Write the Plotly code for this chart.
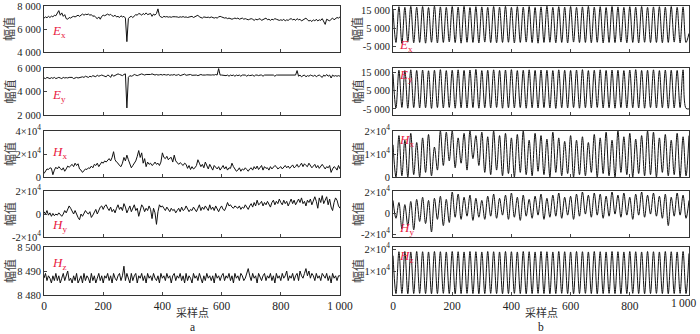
import plotly.graph_objects as go

# ---------------- data ----------------
a_sample = list(range(0, 1001, 5))      # sample index, panel a
b_sample = list(range(0, 1001, 10))     # sample index, panel b (peaks / troughs)

a_Ex = [6950, 7050, 6980, 7100, 7000, 7120, 7050, 7200, 7150, 7350,
        7600, 7200, 7400, 7100, 7250, 6900, 6850, 7000, 6950, 7050,
        7100, 7050, 7150, 7200, 7100, 7250, 7300, 7200, 7280, 7250,
        7300, 7200, 7250, 7100, 7150, 7000, 6900, 7050, 6850, 7100,
        7200, 7150, 7250, 7300, 7200, 7280, 7150, 7100, 7200, 7050,
        7100, 7000, 7150, 7050, 7100, 6950, 4900, 6900, 7050, 7100,
        7000, 7150, 7250, 7200, 7350, 7300, 7200, 7350, 7250, 7400,
        7250, 7300, 7350, 7100, 7300, 7200, 7350, 7750, 7150, 7050,
        7000, 7100, 7050, 7080, 7030, 7060, 7020, 7070, 7040, 7060,
        7050, 7010, 7060, 7030, 7080, 7020, 7050, 7000, 7040, 7070,
        7100, 7000, 7050, 7150, 7200, 7050, 7000, 6950, 7050, 7000,
        7000, 7030, 6980, 7050, 7000, 6950, 7000, 6950, 7050, 7100,
        7050, 7000, 6950, 6980, 6900, 6950, 6900, 6850, 6900, 6950,
        6900, 6950, 6850, 6900, 6950, 6850, 6900, 6850, 6800, 6850,
        6900, 6850, 6750, 6850, 6800, 6850, 6900, 6750, 6800, 6850,
        6950, 6800, 6850, 6750, 6850, 6800, 6900, 6850, 6800, 6750,
        6800, 6750, 6850, 6700, 6800, 6750, 6850, 6900, 6800, 6850,
        6750, 6900, 6800, 6850, 6700, 6800, 6850, 6950, 6800, 6700,
        6750, 6650, 6800, 6700, 6850, 6700, 6800, 6750, 6900, 6700,
        6400, 6850, 6750, 6700, 6850, 6950, 6800, 6900, 7000, 6950,
        7050]

a_Ey = [5150, 5100, 5200, 5150, 5100, 5180, 5120, 5200, 5100, 5150,
        5200, 5150, 5100, 5200, 5150, 5180, 5150, 5200, 5220, 5200,
        5100, 5150, 5200, 5150, 5180, 5200, 5250, 5200, 5300, 5250,
        5200, 5300, 5250, 5350, 5300, 5250, 5400, 5300, 5350, 5400,
        5350, 5300, 5250, 5400, 5350, 5200, 5450, 5300, 5350, 5400,
        5500, 5450, 5400, 5350, 5450, 5500, 2600, 5200, 5350, 5300,
        5350, 5450, 5400, 5350, 5400, 5450, 5500, 5450, 5400, 5450,
        5450, 5400, 5450, 5500, 5450, 5400, 5450, 5400, 5420, 5450,
        5400, 5450, 5420, 5400, 5450, 5380, 5420, 5400, 5450, 5380,
        5400, 5450, 5350, 5400, 5420, 5480, 5380, 5420, 5400, 5450,
        5380, 5400, 5420, 5400, 5350, 5400, 5450, 5400, 5380, 5400,
        5420, 5400, 5380, 5400, 5420, 5400, 5450, 5400, 5950, 5400,
        5400, 5380, 5400, 5350, 5400, 5300, 5400, 5350, 5400, 5300,
        5400, 5350, 5400, 5300, 5400, 5380, 5400, 5300, 5400, 5350,
        5400, 5400, 5300, 5400, 5400, 5350, 5400, 5400, 5300, 5400,
        5400, 5400, 5400, 5400, 5400, 5400, 5300, 5400, 5400, 5400,
        5400, 5400, 5400, 5400, 5400, 5400, 5400, 5400, 5400, 5400,
        5400, 5780, 5300, 5400, 5250, 5350, 5400, 5250, 5350, 5300,
        5400, 5350, 5300, 5400, 5250, 5350, 5400, 5300, 5200, 5400,
        5300, 5450, 5300, 5400, 5150, 5400, 5300, 5350, 5300, 5350,
        5300]

a_Hx = [3000, 5000, 7000, 6500, 8000, 7500, 2000, 6000, 8500, 7000,
        9000, 7500, 6000, 8000, 5000, 7000, 9500, 8500, 10000, 11000,
        9000, 12000, 10000, 11500, 7000, 6000, 4000, 5500, 7000, 6500,
        8000, 7500, 9500, 8000, 11000, 10000, 12000, 9000, 11500, 13000,
        12000, 14000, 13000, 15000, 16000, 14000, 17000, 22000, 15000, 13000,
        12000, 10000, 9000, 12000, 17000, 14000, 19000, 15000, 11000, 8000,
        10000, 12000, 14000, 18000, 23000, 17000, 21000, 12000, 16000, 9000,
        13000, 11000, 12000, 10000, 11000, 13000, 11000, 12000, 10000, 13000,
        21000, 17000, 16000, 18000, 15000, 16500, 17000, 13000, 19000, 14000,
        12000, 11000, 12500, 11000, 10000, 12000, 11000, 7500, 10000, 6500,
        9000, 7000, 8000, 10000, 15000, 12000, 9000, 11000, 8000, 13000,
        10000, 7000, 11000, 9000, 6000, 10000, 8000, 7000, 9000, 6000,
        8000, 10000, 7000, 9000, 6000, 8000, 7500, 12000, 9000, 7000,
        5000, 6000, 8000, 5000, 7000, 6000, 8000, 6500, 5000, 7000,
        8000, 6000, 9000, 7000, 9500, 6500, 8000, 10000, 6000, 9000,
        7500, 8000, 6000, 9000, 7000, 8500, 10000, 9000, 7000, 8000,
        9000, 7000, 8500, 10000, 8000, 9500, 7500, 9000, 10500, 8000,
        9000, 11000, 8500, 10000, 12000, 9000, 11500, 10000, 9000, 12000,
        10000, 8000, 9500, 11000, 8000, 10000, 7500, 9000, 11000, 9000,
        7000, 9000, 8000, 10000, 4000, 7000, 9000, 8000, 6000, 10000,
        7000]

a_Hy = [2000, 0, 3000, -1000, 1000, -2000, 500, -1500, 0, -1000,
        1000, -500, -2000, 0, 3000, 1000, 4000, 7000, 5000, 2000,
        0, 3000, -1000, -3000, -5000, 0, -2000, 1000, 3000, 1000,
        0, 2000, -3000, -1000, 2000, 4000, 0, 3000, 6000, 7000,
        4000, 7000, 8000, 5000, 3000, 6000, 2000, 4000, 1000, 5000,
        8000, 4000, 6000, 3000, 9000, 6000, 1000, 4000, 7000, 2000,
        6000, 8000, 3000, 5000, -2000, 4000, 8000, 6000, 2000, 5000,
        3000, 7000, 4000, -4000, 5000, 1000, -9000, 2000, 8000, 6000,
        7000, 5000, 3000, 6000, 4000, 2000, 5000, 3000, 4000, 1000,
        3000, 5000, 2000, 6000, 3000, 4000, 7000, 5000, 2000, 4000,
        3000, 6000, 4000, 2000, 5000, 8000, 3000, 6000, 4000, 7000,
        5000, 3000, 8000, 4000, 6000, 3000, 7000, 5000, 2000, 5000,
        7000, 4000, 3000, 6000, 10000, 7000, 8000, 6000, 5000, 7000,
        6000, 5000, 7000, 4000, 6000, 5000, 8000, 6000, 4000, 7000,
        9000, 6000, 10000, 7000, 12000, 8000, 9000, 11000, 7000, 10000,
        8000, 11000, 9000, 6000, 10000, 12000, 8000, 11000, 9000, 13000,
        10000, 8000, 12000, 9000, 11000, 7000, 10000, 13000, 9000, 12000,
        8000, 11000, 13000, 10000, 14000, 9000, 11000, 7000, 12000, 10000,
        13000, 8000, 12000, 15000, 11000, 5000, 14000, 10000, 16000, 9000,
        12000, 15000, 8000, 13000, 6000, 3000, 10000, 14000, 12000, 7000,
        5000]

a_Hz = [8487, 8489, 8486, 8488, 8487, 8485, 8488, 8486, 8489, 8486,
        8488, 8485, 8487, 8489, 8486, 8488, 8490, 8486, 8487, 8485,
        8488, 8486, 8489, 8485, 8487, 8488, 8485, 8489, 8486, 8488,
        8487, 8485, 8489, 8486, 8488, 8485, 8487, 8489, 8486, 8488,
        8485, 8488, 8487, 8489, 8486, 8488, 8485, 8489, 8487, 8486,
        8488, 8489, 8486, 8488, 8492, 8486, 8489, 8487, 8485, 8489,
        8486, 8488, 8489, 8485, 8488, 8487, 8489, 8486, 8488, 8485,
        8489, 8487, 8488, 8486, 8489, 8487, 8486, 8488, 8485, 8489,
        8487, 8488, 8486, 8489, 8487, 8488, 8485, 8488, 8489, 8486,
        8488, 8487, 8489, 8486, 8488, 8485, 8489, 8486, 8488, 8487,
        8485, 8489, 8487, 8488, 8486, 8489, 8487, 8485, 8488, 8486,
        8489, 8487, 8488, 8486, 8488, 8485, 8489, 8487, 8488, 8486,
        8488, 8489, 8486, 8488, 8487, 8489, 8486, 8488, 8485, 8489,
        8487, 8488, 8486, 8489, 8488, 8486, 8487, 8489, 8491, 8488,
        8486, 8489, 8487, 8488, 8485, 8489, 8487, 8486, 8488, 8489,
        8486, 8488, 8487, 8489, 8486, 8488, 8485, 8489, 8487, 8488,
        8486, 8489, 8487, 8488, 8490, 8486, 8488, 8487, 8489, 8486,
        8488, 8489, 8486, 8490, 8488, 8487, 8489, 8491, 8488, 8490,
        8487, 8489, 8488, 8486, 8489, 8487, 8488, 8486, 8489, 8488,
        8487, 8489, 8486, 8488, 8485, 8489, 8487, 8488, 8486, 8488,
        8488]

b_Ex = [15000, -3000, 16800, -3500, 16500, -2800, 17000, -3200, 16600, -3000,
        16900, -3400, 16400, -2900, 17100, -3300, 16700, -3000, 16500, -2700,
        16900, -3100, 16600, -3400, 17000, -2900, 16400, -3000, 16800, -3300,
        16700, -2800, 16500, -3100, 16900, -3200, 16600, -3000, 17000, -2900,
        16500, -3300, 16800, -3000, 16600, -2800, 16900, -3100, 16400, -3400,
        16700, -3000, 17100, -2900, 16500, -3200, 16800, -3000, 16600, -3300,
        16900, -2800, 16500, -3100, 16700, -3000, 17000, -3200, 16600, -2900,
        16800, -3300, 16400, -3000, 16900, -3100, 16700, -2800, 16500, -3200,
        16800, -3000, 16600, -3300, 16900, -2900, 16500, -3100, 16700, -3000,
        16800, -3200, 16600, -3000, 16900, -2800, 16500, -3300, 16700, -3000,
        2000]

b_Ey = [14000, -4500, 16000, -4200, 15800, -4600, 16200, -4300, 15900, -4500,
        16100, -4400, 15700, -4700, 16000, -4300, 16300, -4500, 15800, -4200,
        16000, -4600, 16200, -4400, 15900, -4500, 16100, -4300, 16400, -4600,
        15800, -4400, 16000, -4500, 16200, -4200, 15900, -4600, 16100, -4400,
        16300, -4500, 15800, -4300, 16000, -4600, 16200, -4400, 15900, -4500,
        16100, -4300, 16000, -4500, 15800, -4700, 16200, -4400, 16000, -4500,
        15900, -4300, 16100, -4600, 16300, -4400, 15800, -4500, 16000, -4200,
        16200, -4500, 15900, -4400, 16100, -4600, 16000, -4300, 15800, -4500,
        16100, -4400, 16300, -4500, 15900, -4600, 16000, -4300, 16200, -4500,
        15800, -4400, 16100, -4600, 16000, -4500, 15900, -4300, 16200, -4700,
        -5000]

b_Hx = [14000, 0, 18000, 500, 16000, 0, 19000, 1000, 15000, 0,
        17000, 2000, 18500, 500, 13000, 3000, 20000, 5000, 19500, 7000,
        20000, 4000, 17000, 6000, 19000, 3000, 20000, 8000, 18000, 5000,
        19500, 2000, 17500, 1000, 20000, 3000, 18000, 500, 19000, 1500,
        17000, 0, 18500, 2000, 20000, 1000, 16000, 500, 19000, 2500,
        18000, 1000, 16500, 0, 19500, 2000, 17000, 500, 15500, 1500,
        18000, 0, 16000, 1000, 17500, 500, 15000, 2000, 18500, 0,
        17000, 1500, 19500, 500, 16000, 0, 20000, 2000, 17500, 1000,
        19000, 0, 16500, 1500, 18000, 500, 20000, 1000, 19500, 0,
        17000, 2000, 18500, 500, 16000, 1000, 19000, 0, 17500, 500,
        18000]

b_Hy = [12000, -5000, 10000, -15000, 8000, -12000, 11000, -16000, 13000, -8000,
        15000, -10000, 12000, -18000, 14000, -6000, 16000, -12000, 13000, -9000,
        20000, -4000, 18000, -6000, 15000, -3000, 17000, -7000, 14000, -4000,
        12000, -6000, 16000, -3000, 18000, -5000, 14000, -2000, 17000, -6000,
        19000, -4000, 15000, -7000, 17000, -3000, 13000, -5000, 16000, -2000,
        18000, -6000, 14000, -4000, 17000, -3000, 19000, -5000, 15000, -2000,
        16000, -6000, 18000, -3000, 20000, -1000, 17000, -4000, 19000, -2000,
        18000, -5000, 16000, -3000, 20000, -1000, 17000, -4000, 19000, -2000,
        15000, -6000, 18000, -2000, 20000, -4000, 17000, -1000, 19000, -3000,
        16000, -5000, 18000, -12000, 15000, -3000, 19000, -2000, 17000, -5000,
        12000]

b_Hz = [17000, -300, 18800, -200, 18900, -400, 18700, -300, 18900, -200,
        18800, -300, 18700, -400, 18900, -300, 18800, -200, 18700, -300,
        18900, -400, 18800, -300, 18700, -200, 18900, -300, 18800, -400,
        18700, -300, 18900, -200, 18800, -300, 18700, -400, 18900, -300,
        18800, -200, 18700, -300, 18900, -400, 18800, -300, 18700, -200,
        18900, -300, 18800, -400, 18700, -300, 18900, -200, 18800, -300,
        18700, -400, 18900, -300, 18800, -200, 18700, -300, 18900, -400,
        18800, -300, 18700, -200, 18900, -300, 18800, -400, 18700, -300,
        18900, -200, 18800, -300, 18700, -400, 18900, -300, 18800, -200,
        18700, -300, 18900, -400, 18800, -300, 18700, -200, 18900, -300,
        18000]

x_ticks = [0, 200, 400, 600, 800, 1000]
x_ticktext = ["0", "200", "400", "600", "800", "1\u2009000"]

SUP4 = "×10<sup>4</sup>"
panel_a = [
    ("E", "x", a_Ex, [4000, 8000], [4000, 6000, 8000], ["4 000", "6 000", "8 000"]),
    ("E", "y", a_Ey, [2000, 6000], [2000, 4000, 6000], ["2 000", "4 000", "6 000"]),
    ("H", "x", a_Hx, [0, 40000], [0, 20000, 40000], ["0", "2" + SUP4, "4" + SUP4]),
    ("H", "y", a_Hy, [-20000, 20000], [-20000, 0, 20000], ["-2" + SUP4, "0", "2" + SUP4]),
    ("H", "z", a_Hz, [8480, 8500], [8480, 8490, 8500], ["8 480", "8 490", "8 500"]),
]
panel_b = [
    ("E", "x", b_Ex, [-8300, 17200], [-5000, 5000, 15000], ["-5 000", "5 000", "15 000"]),
    ("E", "y", b_Ey, [-8300, 17200], [-5000, 5000, 15000], ["-5 000", "5 000", "15 000"]),
    ("H", "x", b_Hx, [0, 20000], [0, 10000, 20000], ["0", "1" + SUP4, "2" + SUP4]),
    ("H", "y", b_Hy, [-22800, 20950], [-20000, 0, 20000], ["-2" + SUP4, "0", "2" + SUP4]),
    ("H", "z", b_Hz, [-950, 20950], [10000, 20000], ["1" + SUP4, "2" + SUP4]),
]

# ---------------- layout geometry (pixels) ----------------
W, H = 700, 334
rows_px = [(6, 52), (68, 115), (131, 177), (191, 237), (247, 295)]
cols_px = [(44, 340), (393, 689)]
label_y_px = [[32, 95, 152, 225, 263], [45, 75, 140, 228, 256]]
label_x_px = [59, 406]
ytitle_x_px = [9, 357]

SERIF = "Liberation Serif, Times New Roman, serif"
CJK = "Noto Sans CJK SC, sans-serif"
RED = "#e8203f"

fig = go.Figure()
layout = dict(width=W, height=H, margin=dict(l=0, r=0, t=0, b=0, autoexpand=False),
              paper_bgcolor="white", plot_bgcolor="white", showlegend=False)
annotations = []

k = 0
for c, (panel, xs) in enumerate([(panel_a, a_sample), (panel_b, b_sample)]):
    for r, (sym, sub, ys, yr, tv, tt) in enumerate(panel):
        k += 1
        xa = "x" if k == 1 else f"x{k}"
        ya = "y" if k == 1 else f"y{k}"
        xkey = "xaxis" if k == 1 else f"xaxis{k}"
        ykey = "yaxis" if k == 1 else f"yaxis{k}"
        fig.add_trace(go.Scatter(x=xs, y=ys, mode="lines", xaxis=xa, yaxis=ya,
                                 line=dict(color="#111111", width=1,
                                           shape="spline" if c == 1 else "linear",
                                           smoothing=1.0),
                                 cliponaxis=True))
        top, bot = rows_px[r]
        left, right = cols_px[c]
        bottom_row = (r == len(panel) - 1)
        eps = (yr[1] - yr[0]) * 1e-4
        # right column: last x label is drawn as a right-anchored annotation so it stays inside the page
        xtv = x_ticks if c == 0 else x_ticks[:-1]
        xtt = x_ticktext if c == 0 else x_ticktext[:-1]
        layout[xkey] = dict(domain=[left / W, right / W], range=[-0.05, 1000.05],
                            anchor=ya, tickvals=xtv, ticktext=xtt,
                            showticklabels=bottom_row, ticks="inside", ticklen=3,
                            ticklabeloverflow="allow",
                            showline=True, mirror=True, linecolor="#333333", linewidth=1,
                            showgrid=False, zeroline=False, automargin=False,
                            tickfont=dict(family=SERIF, size=11.5, color="#222222"))
        layout[ykey] = dict(domain=[1 - bot / H, 1 - top / H], range=[yr[0] - eps, yr[1] + eps],
                            anchor=xa, tickvals=tv, ticktext=tt,
                            ticks="inside", ticklen=3, ticklabeloverflow="allow",
                            showline=True, mirror=True, linecolor="#333333", linewidth=1,
                            showgrid=False, zeroline=False, automargin=False,
                            tickfont=dict(family=SERIF, size=10.5, color="#222222"))
        if c == 1 and bottom_row:
            annotations.append(dict(
                text=x_ticktext[-1], xref="paper", yref="paper",
                x=699 / W, y=1 - 303 / H, xanchor="right", yanchor="middle",
                showarrow=False, font=dict(family=SERIF, size=11.5, color="#222222")))
        # series label
        annotations.append(dict(
            text=f"<i>{sym}</i><sub>{sub}</sub>", xref="paper", yref="paper",
            x=label_x_px[c] / W, y=1 - label_y_px[c][r] / H, xanchor="center", yanchor="middle",
            showarrow=False, font=dict(family=SERIF, size=13, color=RED)))
        # y title
        annotations.append(dict(
            text="幅值", xref="paper", yref="paper", textangle=-90,
            x=ytitle_x_px[c] / W, y=1 - (top + bot) / 2 / H, xanchor="center", yanchor="middle",
            showarrow=False, font=dict(family=CJK, size=12, color="#444444")))
    left, right = cols_px[c]
    annotations.append(dict(text="采样点", xref="paper", yref="paper",
                            x=(left + right) / 2 / W, y=1 - 312 / H, xanchor="center", yanchor="middle",
                            showarrow=False, font=dict(family=CJK, size=11, color="#333333")))
    annotations.append(dict(text="a" if c == 0 else "b", xref="paper", yref="paper",
                            x=(left + right) / 2 / W, y=1 - 327 / H, xanchor="center", yanchor="middle",
                            showarrow=False, font=dict(family=SERIF, size=11.5, color="#222222")))

layout["annotations"] = annotations
fig.update_layout(**layout)
fig.write_html("out.html", config={"displayModeBar": False},
               post_script="document.body.style.margin='0';document.body.style.padding='0';"
                           "document.body.style.overflow='hidden';")
